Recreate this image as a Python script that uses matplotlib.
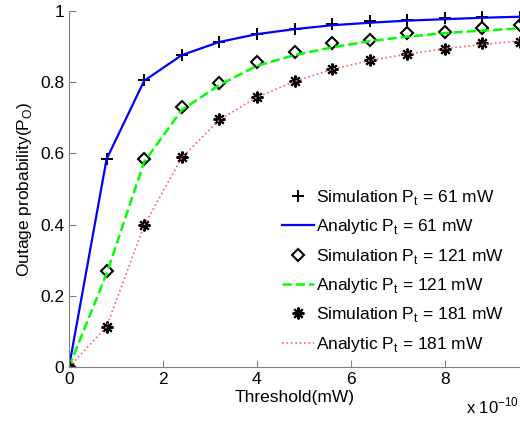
import matplotlib
matplotlib.use("Agg")
import matplotlib.pyplot as plt

# threshold in units of 1e-10 mW
threshold = [0, 0.8, 1.6, 2.4, 3.2, 4.0, 4.8, 5.6, 6.4, 7.2, 8.0, 8.8, 9.6]

sim_61 = [0, 0.584, 0.806, 0.876, 0.914, 0.935, 0.949, 0.963, 0.972, 0.975, 0.979, 0.982, 0.984]
ana_61 = [0, 0.584, 0.804, 0.876, 0.913, 0.935, 0.949, 0.960, 0.967, 0.973, 0.977, 0.981, 0.984]

sim_121 = [0, 0.270, 0.584, 0.730, 0.799, 0.857, 0.886, 0.909, 0.919, 0.937, 0.942, 0.951, 0.961]
ana_121 = [0, 0.262, 0.576, 0.722, 0.792, 0.846, 0.876, 0.898, 0.915, 0.928, 0.938, 0.945, 0.951]

sim_181 = [0, 0.113, 0.400, 0.590, 0.696, 0.759, 0.804, 0.837, 0.862, 0.878, 0.893, 0.911, 0.914]
ana_181 = [0, 0.113, 0.398, 0.588, 0.694, 0.758, 0.802, 0.836, 0.861, 0.879, 0.894, 0.906, 0.916]

plt.rcParams["font.family"] = ["Liberation Sans", "DejaVu Sans"]
plt.rcParams["font.size"] = 12
plt.rcParams["mathtext.fontset"] = "custom"
plt.rcParams["mathtext.rm"] = "Liberation Sans"

fig = plt.figure(figsize=(5.2, 4.23), dpi=100)
ax = fig.add_axes([69 / 520, 1 - 367 / 423, 1 - 69 / 520, 356 / 423])

star = (8, 2, 0)

ax.plot(threshold, sim_61, "+", color="k", ms=9, mew=1.4, ls="none",
        label="Simulation P$_\\mathregular{t}$ = 61 mW")
ax.plot(threshold, ana_61, "-", color="#0000ff", lw=1.6,
        label="Analytic P$_\\mathregular{t}$ = 61 mW")
ax.plot(threshold, sim_121, "D", mfc="none", mec="k", ms=6.5, mew=1.5, ls="none",
        label="Simulation P$_\\mathregular{t}$ = 121 mW")
ax.plot(threshold, ana_121, "--", color="#00ff00", lw=1.8,
        label="Analytic P$_\\mathregular{t}$ = 121 mW")
ax.plot(threshold, sim_181, marker=star, color="k", ms=8.5, mew=1.5, ls="none",
        label="Simulation P$_\\mathregular{t}$ = 181 mW")
ax.plot(threshold, ana_181, ":", color="#ff6060", lw=1.2,
        label="Analytic P$_\\mathregular{t}$ = 181 mW")

ax.set_xlim(0, 9.6)
ax.set_ylim(0, 1)
ax.set_xticks([0, 2, 4, 6, 8])
ax.set_yticks([0, 0.2, 0.4, 0.6, 0.8, 1])
ax.set_yticklabels(["0", "0.2", "0.4", "0.6", "0.8", "1"])

for side in ["top", "right"]:
    ax.spines[side].set_visible(False)
for side in ["left", "bottom"]:
    ax.spines[side].set_color("#808080")
ax.tick_params(direction="in", length=5, color="#808080", labelsize=12.5)

ax.set_xlabel("Threshold(mW)", fontsize=12.5, labelpad=2)
ax.set_ylabel("Outage probability(P$_\\mathregular{O}$)", fontsize=12.5, labelpad=4)
fig.text(0.998, 0.015, "x 10$^\\mathregular{-10}$", ha="right", va="bottom", fontsize=12)

ax.legend(loc="lower right", bbox_to_anchor=(1.0, -0.007), frameon=False,
          fontsize=12.5, handlelength=1.8, handletextpad=0.15, labelspacing=0.6)

fig.savefig("out.png", dpi=100)
